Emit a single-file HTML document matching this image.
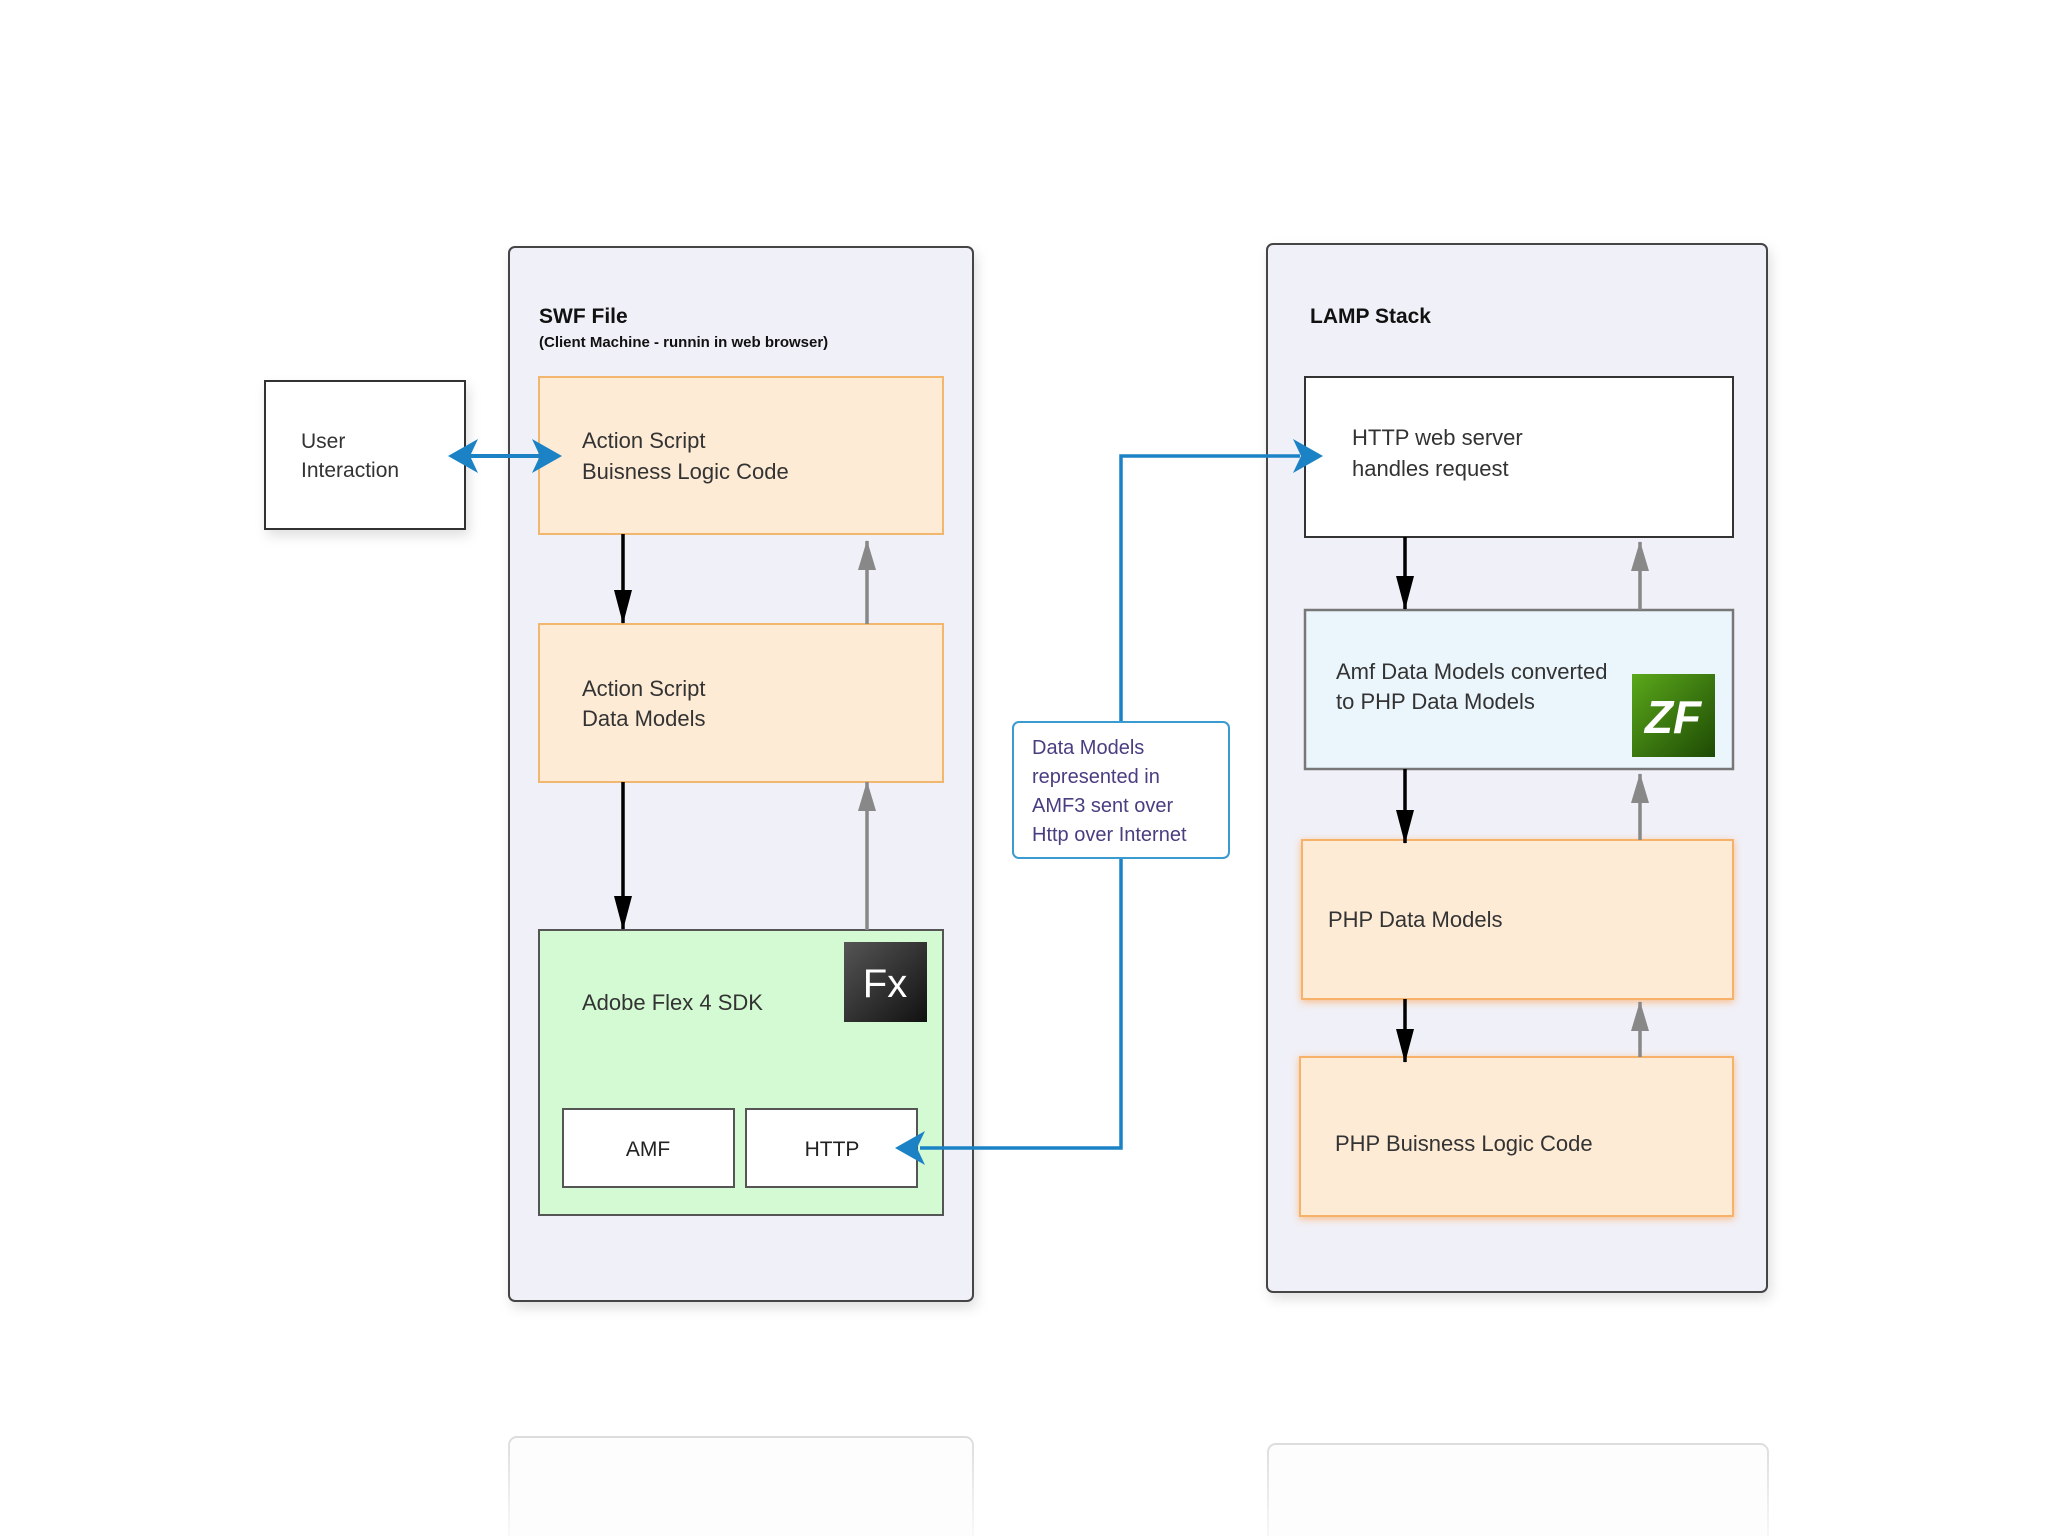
<!DOCTYPE html>
<html><head><meta charset="utf-8"><style>
html,body{margin:0;padding:0;background:#fff;}
svg{display:block;}
text{font-family:"Liberation Sans",sans-serif;}
</style></head><body>
<svg width="2048" height="1536" viewBox="0 0 2048 1536" xmlns="http://www.w3.org/2000/svg">
<defs>
<filter id="sh" x="-10%" y="-10%" width="130%" height="130%"><feDropShadow dx="3" dy="6" stdDeviation="6" flood-color="#000" flood-opacity="0.12"/></filter>
<filter id="glow" x="-10%" y="-10%" width="120%" height="130%"><feDropShadow dx="0" dy="2" stdDeviation="4" flood-color="#ff9a3a" flood-opacity="0.6"/></filter>
<linearGradient id="fx" x1="0" y1="0" x2="1" y2="1"><stop offset="0" stop-color="#555"/><stop offset="1" stop-color="#111"/></linearGradient>
<linearGradient id="zf" x1="0" y1="0" x2="1" y2="1"><stop offset="0" stop-color="#5aa81a"/><stop offset="1" stop-color="#1e4a05"/></linearGradient>
<linearGradient id="refl" x1="0" y1="0" x2="0" y2="1"><stop offset="0" stop-color="#ddd"/><stop offset="1" stop-color="#fff"/></linearGradient>
<marker id="ab" markerWidth="34" markerHeight="18" refX="33" refY="9" orient="auto" markerUnits="userSpaceOnUse"><path d="M0,0 L34,9 L0,18 z" fill="#000"/></marker>
<marker id="ag" markerWidth="30" markerHeight="18" refX="29" refY="9" orient="auto" markerUnits="userSpaceOnUse"><path d="M0,0 L30,9 L0,18 z" fill="#888"/></marker>
</defs>

<!-- reflections -->
<rect x="509" y="1437" width="464" height="120" rx="8" fill="#fdfdfd" stroke="url(#refl)" stroke-width="2"/>
<rect x="1268" y="1444" width="500" height="120" rx="8" fill="#fdfdfd" stroke="url(#refl)" stroke-width="2"/>

<!-- user interaction -->
<rect x="265" y="381" width="200" height="148" fill="#fff" stroke="#333" stroke-width="2" filter="url(#sh)"/>
<text x="301" y="448" font-size="21" fill="#333">User</text>
<text x="301" y="477" font-size="21" fill="#333">Interaction</text>

<!-- SWF container -->
<rect x="509" y="247" width="464" height="1054" rx="6" fill="#f0f0f8" stroke="#444" stroke-width="2" filter="url(#sh)"/>
<text x="539" y="323" font-size="21" font-weight="bold" fill="#111">SWF File</text>
<text x="539" y="347" font-size="15" font-weight="bold" fill="#111">(Client Machine - runnin in web browser)</text>

<rect x="539" y="377" width="404" height="157" fill="#fdebd6" stroke="#f3b66e" stroke-width="2"/>
<text x="582" y="448" font-size="22" fill="#333">Action Script</text>
<text x="582" y="479" font-size="22" fill="#333">Buisness Logic Code</text>

<rect x="539" y="624" width="404" height="158" fill="#fdebd6" stroke="#f3b66e" stroke-width="2"/>
<text x="582" y="696" font-size="22" fill="#333">Action Script</text>
<text x="582" y="726" font-size="22" fill="#333">Data Models</text>

<rect x="539" y="930" width="404" height="285" fill="#d4fad4" stroke="#555" stroke-width="2"/>
<text x="582" y="1010" font-size="22" fill="#333">Adobe  Flex 4 SDK</text>
<rect x="844" y="942" width="83" height="80" fill="url(#fx)"/>
<text x="885" y="997" font-size="40" fill="#fff" text-anchor="middle">Fx</text>
<rect x="563" y="1109" width="171" height="78" fill="#fff" stroke="#555" stroke-width="2"/>
<text x="648" y="1156" font-size="21" fill="#222" text-anchor="middle">AMF</text>
<rect x="746" y="1109" width="171" height="78" fill="#fff" stroke="#555" stroke-width="2"/>
<text x="832" y="1156" font-size="21" fill="#222" text-anchor="middle">HTTP</text>

<!-- SWF arrows -->
<line x1="623" y1="534" x2="623" y2="623" stroke="#000" stroke-width="3.5" marker-end="url(#ab)"/>
<line x1="867" y1="624" x2="867" y2="541" stroke="#888" stroke-width="3.5" marker-end="url(#ag)"/>
<line x1="623" y1="782" x2="623" y2="929" stroke="#000" stroke-width="3.5" marker-end="url(#ab)"/>
<line x1="867" y1="930" x2="867" y2="782" stroke="#888" stroke-width="3.5" marker-end="url(#ag)"/>

<!-- blue double arrow -->
<line x1="470" y1="456" x2="540" y2="456" stroke="#1b82c5" stroke-width="4"/>
<path d="M448,456 L478,439 L470,456 L478,473 z" fill="#1b82c5"/>
<path d="M562,456 L532,439 L540,456 L532,473 z" fill="#1b82c5"/>

<!-- LAMP container -->
<rect x="1267" y="244" width="500" height="1048" rx="6" fill="#f0f0f8" stroke="#444" stroke-width="2" filter="url(#sh)"/>
<text x="1310" y="323" font-size="21" font-weight="bold" fill="#111">LAMP Stack</text>

<rect x="1305" y="377" width="428" height="160" fill="#fff" stroke="#333" stroke-width="2"/>
<text x="1352" y="445" font-size="22" fill="#333">HTTP web server</text>
<text x="1352" y="476" font-size="22" fill="#333">handles request</text>

<rect x="1305" y="610" width="428" height="159" fill="#eaf5fc" stroke="#777" stroke-width="2.5"/>
<text x="1336" y="679" font-size="22" fill="#333">Amf Data Models converted</text>
<text x="1336" y="709" font-size="22" fill="#333">to PHP Data Models</text>
<rect x="1632" y="674" width="83" height="83" fill="url(#zf)"/>
<text x="1673" y="733" font-size="46" font-weight="bold" font-style="italic" fill="#fff" text-anchor="middle">ZF</text>

<rect x="1302" y="840" width="431" height="159" fill="#fdebd6" stroke="#f7b26a" stroke-width="2" filter="url(#glow)"/>
<text x="1328" y="927" font-size="22" fill="#333">PHP Data Models</text>

<rect x="1300" y="1057" width="433" height="159" fill="#fdebd6" stroke="#f7b26a" stroke-width="2" filter="url(#glow)"/>
<text x="1335" y="1151" font-size="22" fill="#333">PHP Buisness Logic Code</text>

<!-- LAMP arrows -->
<line x1="1405" y1="537" x2="1405" y2="609" stroke="#000" stroke-width="3.5" marker-end="url(#ab)"/>
<line x1="1640" y1="610" x2="1640" y2="542" stroke="#888" stroke-width="3.5" marker-end="url(#ag)"/>
<line x1="1405" y1="769" x2="1405" y2="843" stroke="#000" stroke-width="3.5" marker-end="url(#ab)"/>
<line x1="1640" y1="840" x2="1640" y2="774" stroke="#888" stroke-width="3.5" marker-end="url(#ag)"/>
<line x1="1405" y1="999" x2="1405" y2="1062" stroke="#000" stroke-width="3.5" marker-end="url(#ab)"/>
<line x1="1640" y1="1057" x2="1640" y2="1002" stroke="#888" stroke-width="3.5" marker-end="url(#ag)"/>

<!-- blue connector (on top) -->
<polyline points="920,1148 1121,1148 1121,456 1300,456" fill="none" stroke="#1b82c5" stroke-width="3.5"/>
<path d="M895,1148 L925,1131 L917,1148 L925,1165 z" fill="#1b82c5"/>
<path d="M1323,456 L1293,439 L1301,456 L1293,473 z" fill="#1b82c5"/>

<rect x="1013" y="722" width="216" height="136" rx="6" fill="#fff" stroke="#3a9bd0" stroke-width="2"/>
<text font-size="20" fill="#4a3d80"><tspan x="1032" y="754">Data Models</tspan><tspan x="1032" y="783">represented in</tspan><tspan x="1032" y="812">AMF3 sent over</tspan><tspan x="1032" y="841">Http over Internet</tspan></text>
</svg>
</body></html>
